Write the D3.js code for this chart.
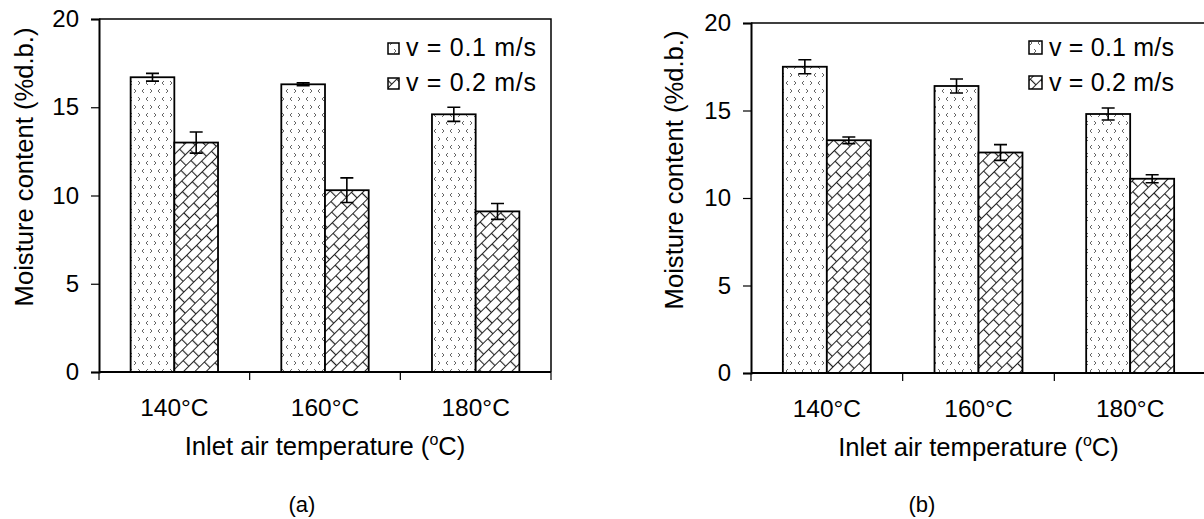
<!DOCTYPE html>
<html>
<head>
<meta charset="utf-8">
<script src="https://cdn.jsdelivr.net/npm/d3@7"></script>
<style>
  body { margin: 0; background: #fff; }
  svg text { font-family: "Liberation Sans", Arial, sans-serif; fill: #000; }
</style>
</head>
<body>
<svg id="canvas" width="1204" height="519"></svg>
<script>
const categories = ["140°C", "160°C", "180°C"];
const seriesNames = ["v = 0.1 m/s", "v = 0.2 m/s"];
const yTicks = [0, 5, 10, 15, 20];

// panel (a)
const a_v01 = [16.7, 16.3, 14.6];
const a_v01Err = [0.22, 0.08, 0.4];
const a_v02 = [13.0, 10.3, 9.1];
const a_v02Err = [0.6, 0.7, 0.45];

// panel (b)
const b_v01 = [17.5, 16.4, 14.8];
const b_v01Err = [0.4, 0.4, 0.34];
const b_v02 = [13.3, 12.6, 11.1];
const b_v02Err = [0.19, 0.45, 0.23];

const svg = d3.select("#canvas");
const defs = svg.append("defs");

// small gray chevrons
const chev = defs.append("pattern")
    .attr("id", "chev")
    .attr("patternUnits", "userSpaceOnUse")
    .attr("width", 16).attr("height", 16);
chev.append("rect").attr("width", 16).attr("height", 16).attr("fill", "#fff");
chev.append("path")
    .attr("d", "M4,1 L2,3 L4,5 M10,1 L12,3 L10,5 M6,9 L8,11 L6,13 M16,9 L14,11 L16,13 M0,9 L-2,11 L0,13")
    .attr("fill", "none").attr("stroke", "#666").attr("stroke-width", 1);

// diagonal brick
const brick = defs.append("pattern")
    .attr("id", "brick")
    .attr("patternUnits", "userSpaceOnUse")
    .attr("width", 14).attr("height", 16)
    .attr("patternTransform", "rotate(-45)");
brick.append("rect").attr("width", 14).attr("height", 16).attr("fill", "#fff");
brick.append("path")
    .attr("d", "M0,0.5H14 M0,8.5H14 M0.5,0.5V8.5 M7.5,8.5V16.5")
    .attr("fill", "none").attr("stroke", "#222").attr("stroke-width", 1.2);

const fills = ["url(#chev)", "url(#brick)"];

function drawPanel(p) {
    const g = svg.append("g");

    const x0 = d3.scaleBand().domain(categories).range([p.left, p.right]);
    const bw = x0.bandwidth();
    const x1 = d3.scaleBand().domain(seriesNames).range([bw * 0.21, bw * 0.79]);
    const y = d3.scaleLinear().domain([0, 20]).range([p.bottom, p.top]);

    // frame top and right
    g.append("path")
        .attr("d", `M${p.left},${p.top}H${p.right}V${p.bottom}`)
        .attr("fill", "none").attr("stroke", "#000").attr("stroke-width", 1.5);

    // bars
    p.series.forEach((s, si) => {
        s.values.forEach((v, ci) => {
            const bx = x0(categories[ci]) + x1(seriesNames[si]);
            g.append("rect")
                .attr("x", bx)
                .attr("y", y(v))
                .attr("width", x1.bandwidth())
                .attr("height", y(0) - y(v))
                .attr("fill", fills[si])
                .attr("stroke", "#000")
                .attr("stroke-width", 1.8);

            const cx = bx + x1.bandwidth() / 2;
            const e = s.errs[ci];
            g.append("path")
                .attr("d", `M${cx},${y(v - e)}V${y(v + e)} M${cx - 6.5},${y(v - e)}H${cx + 6.5} M${cx - 6.5},${y(v + e)}H${cx + 6.5}`)
                .attr("fill", "none").attr("stroke", "#000").attr("stroke-width", 1.6);
        });
    });

    // y axis
    const yAxis = g.append("g")
        .attr("transform", `translate(${p.left},0)`)
        .call(d3.axisLeft(y).tickValues(yTicks).tickSize(8).tickPadding(12));
    yAxis.select(".domain").attr("stroke-width", 2);
    yAxis.selectAll(".tick line").attr("stroke-width", 1.2);
    yAxis.selectAll("text").attr("font-size", 24).attr("font-family", "Liberation Sans");

    // x axis with ticks on category boundaries
    const xAxis = g.append("g").attr("transform", `translate(0,${p.bottom})`);
    xAxis.append("line")
        .attr("x1", p.left).attr("x2", p.right)
        .attr("stroke", "#000").attr("stroke-width", 2);
    const bounds = categories.map(c => x0(c)).concat([p.right]);
    xAxis.selectAll("line.tk").data(bounds).join("line")
        .attr("class", "tk")
        .attr("x1", d => d).attr("x2", d => d)
        .attr("y1", 0).attr("y2", 8)
        .attr("stroke", "#000").attr("stroke-width", 1.2);
    xAxis.selectAll("text.cat").data(categories).join("text")
        .attr("class", "cat")
        .attr("x", d => x0(d) + bw / 2)
        .attr("y", 44)
        .attr("text-anchor", "middle")
        .attr("font-size", 24.5)
        .text(d => d);

    // axis titles
    const xt = g.append("text")
        .attr("x", (p.left + p.right) / 2)
        .attr("y", p.bottom + 83)
        .attr("text-anchor", "middle")
        .attr("font-size", 25.6);
    xt.append("tspan").text("Inlet air temperature (");
    xt.append("tspan").attr("dy", -10).attr("font-size", 16).text("o");
    xt.append("tspan").attr("dy", 10).text("C)");

    g.append("text")
        .attr("transform", `translate(${p.ytitleX},${p.ytitleY}) rotate(-90)`)
        .attr("text-anchor", "middle")
        .attr("font-size", 25.6)
        .text("Moisture content (%d.b.)");

    // legend
    seriesNames.forEach((name, si) => {
        const ly = p.legendY + si * 35;
        g.append("rect")
            .attr("x", p.legendX)
            .attr("y", ly - p.box + 1)
            .attr("width", p.box).attr("height", p.box)
            .attr("fill", fills[si])
            .attr("stroke", "#000").attr("stroke-width", 1.5);
        g.append("text")
            .attr("x", p.legendX + p.box + 7)
            .attr("y", ly + 3)
            .attr("font-size", 25)
            .attr("textLength", p.legendW)
            .attr("lengthAdjust", "spacing")
            .text(name);
    });

    // panel label
    g.append("text")
        .attr("x", p.labelX)
        .attr("y", 512)
        .attr("text-anchor", "middle")
        .attr("font-size", 22)
        .attr("fill", "#333")
        .text(p.label);
}

drawPanel({
    left: 99, right: 551, top: 19, bottom: 372,
    series: [{ values: a_v01, errs: a_v01Err }, { values: a_v02, errs: a_v02Err }],
    ytitleX: 33, ytitleY: 167,
    legendX: 388, legendY: 53, box: 11, legendW: 130,
    labelX: 302, label: "(a)"
});

drawPanel({
    left: 751, right: 1206, top: 23, bottom: 373,
    series: [{ values: b_v01, errs: b_v01Err }, { values: b_v02, errs: b_v02Err }],
    ytitleX: 683, ytitleY: 170,
    legendX: 1029, legendY: 53, box: 13, legendW: 125,
    labelX: 922, label: "(b)"
});
</script>
</body>
</html>
